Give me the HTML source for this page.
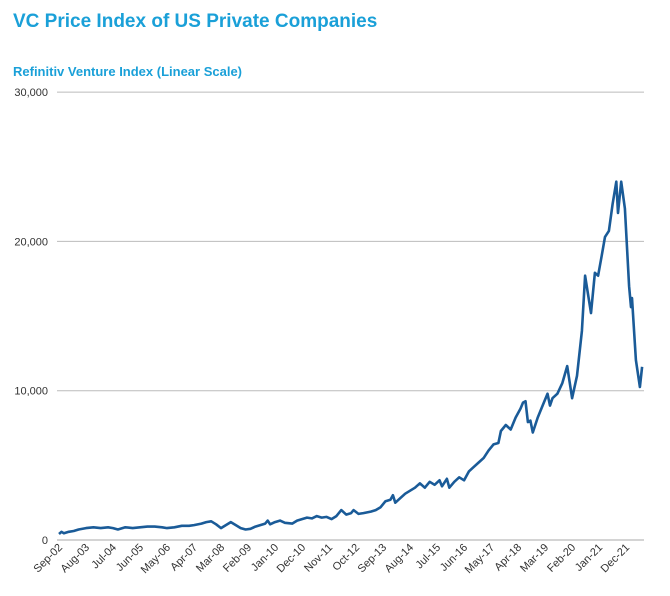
<!DOCTYPE html>
<html><head><meta charset="utf-8"><style>
body{margin:0;background:#fff;width:670px;height:596px;overflow:hidden;font-family:"Liberation Sans",Arial,sans-serif}
svg{position:absolute;left:0;top:0}
</style></head><body>
<svg width="670" height="596">
<text x="13" y="27" font-size="19" font-weight="bold" fill="#1aa0d8">VC Price Index of US Private Companies</text>
<text x="13" y="76" font-size="13" font-weight="bold" fill="#1aa0d8">Refinitiv Venture Index (Linear Scale)</text>
<g id="grid"></g><g id="yt"></g><g id="xt"></g><g id="ln"></g>
</svg>
<script>
const months=[0,1,2,4,6,8,11,14,17,20,22,24,27,30,33,36,39,42,44,47,50,53,55,58,60,62,64,66,68,70,72,74,76,78,80,82,84,85,86,88,90,92,95,97,99,101,103,105,107,109,111,113,115,117,119,120,122,124,127,129,131,133,135,136,137,139,141,143,145,147,149,151,153,155,156,158,159,161,163,165,167,169,171,173,175,177,179,180,182,184,186,188,189,190,191,192,193,195,197,199,200,201,203,205,207,209,211,213,214.3,216.7,218.3,219.6,221,222.4,224,225.5,227,227.7,229,230.5,232.2,233,233.4,235,236.6,237.5];
const values=[400,550,450,550,600,700,800,850,800,850,800,700,850,800,850,900,900,850,800,850,950,950,1000,1100,1200,1250,1050,800,1000,1200,1000,800,700,750,900,1000,1100,1300,1050,1200,1300,1150,1100,1300,1400,1500,1450,1600,1500,1550,1400,1600,2000,1700,1800,2000,1750,1800,1900,2000,2200,2600,2700,3000,2500,2800,3100,3300,3500,3800,3500,3900,3700,4000,3600,4100,3500,3900,4200,4000,4600,4900,5200,5500,6000,6400,6500,7300,7700,7400,8200,8800,9200,9300,7900,8000,7200,8200,9000,9800,9000,9500,9800,10500,11650,9500,11000,14000,17700,15200,17900,17700,19000,20300,20700,22500,24000,21900,24000,22200,17000,15600,16200,12050,10250,11600];
const yTicks=[0,10000,20000,30000];
const yTickLabels=["0","10,000","20,000","30,000"];
const xTickMonths=[0,11,22,33,44,55,66,77,88,99,110,121,132,143,154,165,176,187,198,209,220,231];
const xTickLabels=["Sep-02","Aug-03","Jul-04","Jun-05","May-06","Apr-07","Mar-08","Feb-09","Jan-10","Dec-10","Nov-11","Oct-12","Sep-13","Aug-14","Jul-15","Jun-16","May-17","Apr-18","Mar-19","Feb-20","Jan-21","Dec-21"];
const NS="http://www.w3.org/2000/svg";
const X=m=>59+m*2.455;
const Y=v=>540-v*0.01493;
function mk(t,a,p){const e=document.createElementNS(NS,t);for(const k in a)e.setAttribute(k,a[k]);p.appendChild(e);return e;}
const grid=document.getElementById('grid'),yt=document.getElementById('yt'),xt=document.getElementById('xt'),ln=document.getElementById('ln');
yTicks.forEach((v,i)=>{
 const l=mk('line',{x1:57,x2:644,y1:Y(v),y2:Y(v),stroke:i==0?'#aaa':'#bbb','stroke-width':1},grid);
 
 
 const t=mk('text',{x:48,y:Y(v)+4,'text-anchor':'end','font-size':11,fill:'#333'},yt);
 t.textContent=yTickLabels[i];
 
 
});
xTickMonths.forEach((m,i)=>{
 const x=X(m)+4,y=548;
 const t=mk('text',{x:x,y:y,'text-anchor':'end','font-size':11,fill:'#333',transform:`rotate(-45 ${x} ${y})`},xt);
 t.textContent=xTickLabels[i];
 
 
});
const d=months.map((m,i)=>(i?'L':'M')+X(m).toFixed(1)+','+Y(values[i]).toFixed(1)).join('');
const p=mk('path',{d:d,fill:'none',stroke:'#1a5b98','stroke-width':2.6,'stroke-linejoin':'round'},ln);


</script>
</body></html>
